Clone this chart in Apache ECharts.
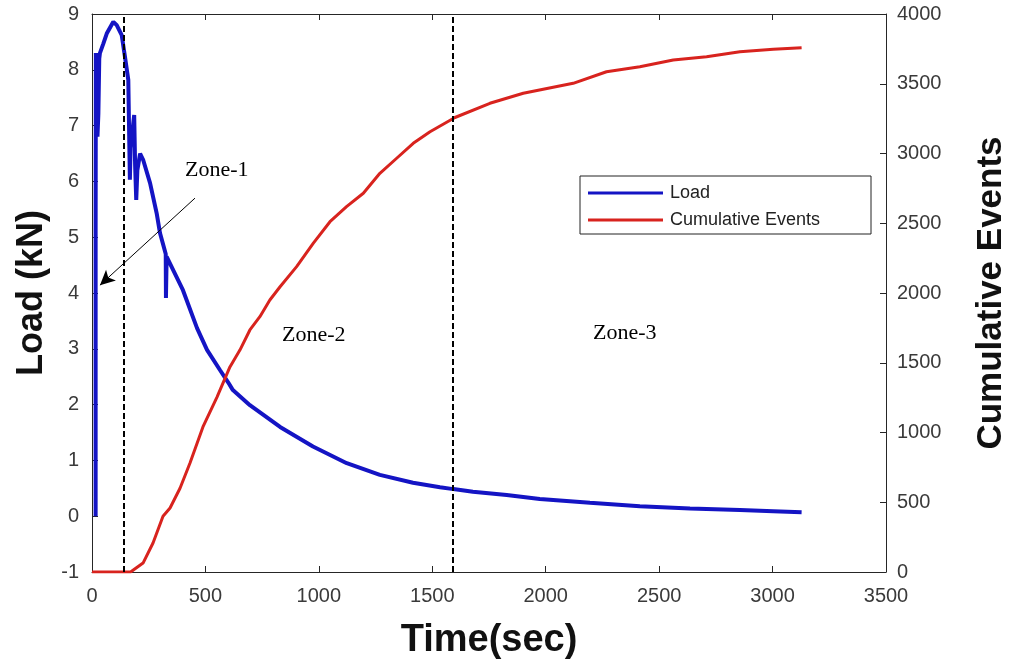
<!DOCTYPE html>
<html>
<head>
<meta charset="utf-8">
<title>Load and Cumulative Events</title>
<script src="https://cdn.jsdelivr.net/npm/echarts@6/dist/echarts.min.js"></script>
<style>
  html, body { margin: 0; padding: 0; background: #fff; }
  #chart { width: 1013px; height: 660px; }
</style>
</head>
<body>
<div id="chart"></div>
<script>
// load curve (time in sec, load in kN)
const loadTime = [16, 16, 17, 20, 24, 28, 32, 35, 50, 65, 94, 109, 131, 145, 160, 165, 167, 170, 186, 190, 195, 200, 212, 226, 256, 285, 300, 325, 326, 329, 401, 463, 507, 564, 600, 621, 696, 829, 974, 1123, 1269, 1415, 1534, 1585, 1679, 1828, 1974, 2195, 2415, 2636, 2856, 3003, 3128];
const loadKN = [0, 5.1, 8.3, 8.3, 6.8, 7.2, 8.2, 8.3, 8.47, 8.65, 8.86, 8.8, 8.62, 8.24, 7.82, 7.82, 6.03, 6.6, 7.19, 6.3, 5.67, 6.2, 6.5, 6.38, 5.97, 5.43, 5.07, 4.7, 3.91, 4.65, 4.05, 3.37, 2.98, 2.62, 2.4, 2.26, 1.99, 1.6, 1.25, 0.95, 0.74, 0.6, 0.52, 0.49, 0.44, 0.38, 0.31, 0.24, 0.18, 0.14, 0.11, 0.09, 0.07];

// cumulative events curve
const cumTime = [0, 170, 225, 269, 313, 344, 388, 432, 489, 551, 608, 652, 696, 740, 784, 829, 902, 975, 1049, 1122, 1196, 1269, 1343, 1416, 1490, 1600, 1754, 1901, 2121, 2268, 2415, 2562, 2709, 2856, 3003, 3128];
const cumEvents = [0, 0, 64, 208, 400, 459, 600, 781, 1040, 1254, 1470, 1591, 1735, 1830, 1950, 2045, 2189, 2356, 2511, 2619, 2715, 2858, 2966, 3073, 3156, 3258, 3360, 3432, 3503, 3586, 3622, 3670, 3694, 3730, 3747, 3758];

// zone boundaries (sec)
const zoneLines = [140, 1590];
// arrow pointing to zone-1 : [time, load]
const arrowFrom = [454, 5.7];
const arrowTo = [35, 4.14];

const seriesNames = ['Load', 'Cumulative Events'];

const chart = echarts.init(document.getElementById('chart'));

const axisColor = '#262626';
const labelFont = 'Liberation Sans, Arial, sans-serif';
const plain = v => String(v);

const loadData = loadTime.map((t, i) => [t, loadKN[i]]);
const cumData = cumTime.map((t, i) => [t, cumEvents[i]]);

const markLineData = zoneLines.map(x => ({
  xAxis: x,
  lineStyle: { type: [6, 3], color: '#000', width: 2 }
}));
markLineData.push([
  { coord: arrowFrom, symbol: 'none' },
  { coord: arrowTo, symbol: 'arrow', symbolSize: [11, 15], lineStyle: { type: 'solid', color: '#000', width: 1 } }
]);

const option = {
  animation: false,
  backgroundColor: '#fff',
  grid: { left: 92, right: 127, top: 14, bottom: 88, containLabel: false, outerBoundsMode: 'none' },
  legend: {
    data: seriesNames,
    orient: 'vertical',
    left: 580,
    top: 176,
    icon: 'rect',
    itemWidth: 75,
    itemHeight: 3,
    itemGap: 5,
    padding: [6, 6, 3, 8],
    borderColor: '#222',
    borderWidth: 1,
    backgroundColor: '#fff',
    textStyle: { fontSize: 18, fontFamily: labelFont, color: '#222', lineHeight: 22, width: 195, padding: [0, 0, 0, 2] }
  },
  xAxis: [
    {
      type: 'value',
      min: 0,
      max: 3500,
      interval: 500,
      name: 'Time(sec)',
      nameLocation: 'middle',
      nameGap: 50,
      nameTextStyle: { fontSize: 38, fontWeight: 'bold', fontFamily: labelFont, color: '#111' },
      axisLine: { show: true, onZero: false, lineStyle: { color: axisColor } },
      axisTick: { show: true, inside: true, length: 6, lineStyle: { color: axisColor } },
      axisLabel: { fontSize: 20, fontFamily: labelFont, color: '#3a3a3a', margin: 14, formatter: plain },
      splitLine: { show: false }
    },
    {
      type: 'value',
      position: 'top',
      min: 0,
      max: 3500,
      interval: 500,
      axisLine: { show: true, onZero: false, lineStyle: { color: axisColor } },
      axisTick: { show: true, inside: true, length: 6, lineStyle: { color: axisColor } },
      axisLabel: { show: false },
      splitLine: { show: false }
    }
  ],
  yAxis: [
    {
      type: 'value',
      min: -1,
      max: 9,
      interval: 1,
      name: 'Load (kN)',
      nameLocation: 'middle',
      nameGap: 42,
      nameRotate: 90,
      nameTextStyle: { fontSize: 36, fontWeight: 'bold', fontFamily: labelFont, color: '#111' },
      axisLine: { show: true, onZero: false, lineStyle: { color: axisColor } },
      axisTick: { show: true, inside: true, length: 6, lineStyle: { color: axisColor } },
      axisLabel: { fontSize: 20, fontFamily: labelFont, color: '#3a3a3a', margin: 13, formatter: plain },
      splitLine: { show: false }
    },
    {
      type: 'value',
      min: 0,
      max: 4000,
      interval: 500,
      position: 'right',
      name: 'Cumulative Events',
      nameLocation: 'middle',
      nameGap: 88,
      nameRotate: 90,
      nameTextStyle: { fontSize: 35, fontWeight: 'bold', fontFamily: labelFont, color: '#111' },
      axisLine: { show: true, onZero: false, lineStyle: { color: axisColor } },
      axisTick: { show: true, inside: true, length: 6, lineStyle: { color: axisColor } },
      axisLabel: { fontSize: 20, fontFamily: labelFont, color: '#3a3a3a', margin: 11, formatter: plain },
      splitLine: { show: false }
    }
  ],
  series: [
    {
      name: seriesNames[0],
      type: 'line',
      xAxisIndex: 0,
      yAxisIndex: 0,
      data: loadData,
      showSymbol: false,
      symbol: 'none',
      lineStyle: { color: '#1414C4', width: 4 },
      itemStyle: { color: '#1414C4' },
      z: 2,
      markLine: {
        silent: true,
        symbol: ['none', 'none'],
        label: { show: false },
        emphasis: { disabled: true },
        data: markLineData
      }
    },
    {
      name: seriesNames[1],
      type: 'line',
      xAxisIndex: 0,
      yAxisIndex: 1,
      data: cumData,
      showSymbol: false,
      symbol: 'none',
      lineStyle: { color: '#D8231E', width: 3 },
      itemStyle: { color: '#D8231E' },
      z: 3
    }
  ],
  graphic: [
    { type: 'text', left: 185, top: 159, style: { text: 'Zone-1', font: '22px "Liberation Serif", "Times New Roman", serif', fill: '#000' } },
    { type: 'text', left: 282, top: 324, style: { text: 'Zone-2', font: '22px "Liberation Serif", "Times New Roman", serif', fill: '#000' } },
    { type: 'text', left: 593, top: 322, style: { text: 'Zone-3', font: '22px "Liberation Serif", "Times New Roman", serif', fill: '#000' } }
  ]
};

chart.setOption(option);
</script>
</body>
</html>
